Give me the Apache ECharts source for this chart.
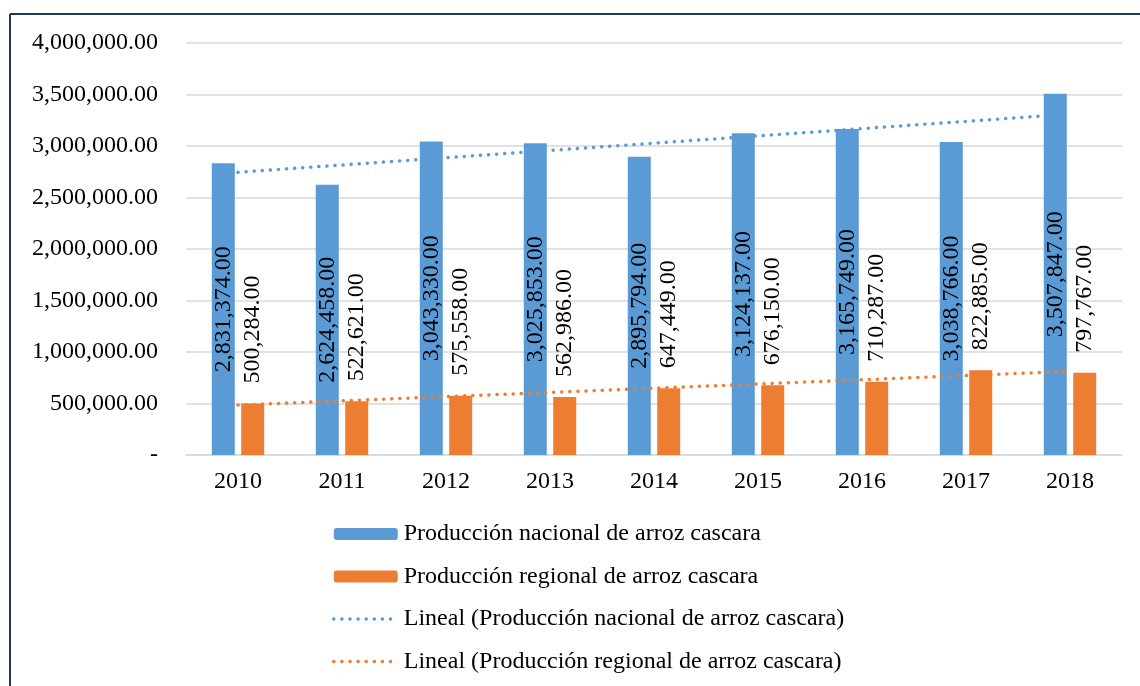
<!DOCTYPE html>
<html>
<head>
<meta charset="utf-8">
<script src="https://cdn.jsdelivr.net/npm/echarts@6/dist/echarts.min.js"></script>
<style>
html,body{margin:0;padding:0;background:#fff;}
#chart{width:1140px;height:686px;}
</style>
</head>
<body>
<div id="chart"></div>
<script>
const years = ['2010','2011','2012','2013','2014','2015','2016','2017','2018'];
const nacional = [2831374, 2624458, 3043330, 3025853, 2895794, 3124137, 3165749, 3038766, 3507847];
const regional = [500284, 522621, 575558, 562986, 647449, 676150, 710287, 822885, 797767];
// trendline endpoints (first and last year)
const trendNacional = [2745000, null, null, null, null, null, null, null, 3310000];
const trendRegional = [485000, null, null, null, null, null, null, null, 812000];
const seriesNames = [
  'Producción nacional de arroz cascara',
  'Producción regional de arroz cascara',
  'Lineal (Producción nacional de arroz cascara)',
  'Lineal (Producción regional de arroz cascara)'
];

const FONT = '"Liberation Serif", "Times New Roman", serif';
const BLUE = '#5B9BD5', ORANGE = '#ED7D31';
function fmt(v){
  if (v === 0) return '-';
  return v.toLocaleString('en-US', {minimumFractionDigits:2, maximumFractionDigits:2});
}
const dotted = {width:3.5, type:[0.1,8], cap:'round'};

const chart = echarts.init(document.getElementById('chart'), null, {renderer:'canvas'});
chart.setOption({
  animation:false,
  backgroundColor:'#fff',
  textStyle:{fontFamily:FONT},
  graphic:[
    {type:'line', shape:{x1:10, y1:14, x2:1140, y2:14}, style:{stroke:'#1F3864', lineWidth:2}},
    {type:'line', shape:{x1:10, y1:14, x2:10, y2:686}, style:{stroke:'#1F3864', lineWidth:2}}
  ],
  grid:{left:186, right:18, top:43, bottom:231, containLabel:false},
  xAxis:{
    type:'category', data:years,
    axisTick:{show:false},
    axisLine:{lineStyle:{color:'#d9d9d9', width:1.5}},
    axisLabel:{color:'#000', fontFamily:FONT, fontSize:24, margin:15}
  },
  yAxis:{
    type:'value', min:0, max:4000000, interval:500000,
    axisLine:{show:false}, axisTick:{show:false},
    splitLine:{lineStyle:{color:'#d9d9d9', width:1.5}},
    axisLabel:{color:'#000', fontFamily:FONT, fontSize:24, margin:28, formatter:fmt}
  },
  legend:{
    orient:'vertical', left:327, top:517,
    itemWidth:64, itemHeight:12, itemGap:18.5,
    textStyle:{color:'#000', fontFamily:FONT, fontSize:24, lineHeight:24, padding:[0,0,0,1]},
    data:[
      {name:seriesNames[0]},
      {name:seriesNames[1]},
      {name:seriesNames[2], itemStyle:{opacity:0}, lineStyle:Object.assign({color:BLUE}, dotted)},
      {name:seriesNames[3], itemStyle:{opacity:0}, lineStyle:Object.assign({color:ORANGE}, dotted)}
    ]
  },
  series:[
    {
      name:seriesNames[0], type:'bar', data:nacional, barWidth:23, barGap:'28%',
      itemStyle:{color:BLUE},
      label:{show:true, position:'inside', rotate:90, color:'#000', fontFamily:FONT, fontSize:24, formatter:p=>fmt(p.value)},
      z:2
    },
    {
      name:seriesNames[1], type:'bar', data:regional, barWidth:23,
      itemStyle:{color:ORANGE},
      label:{show:true, position:'top', rotate:90, align:'left', verticalAlign:'middle', distance:20, color:'#000', fontFamily:FONT, fontSize:24, formatter:p=>fmt(p.value)},
      z:2
    },
    {
      name:seriesNames[2], type:'line', data:trendNacional, connectNulls:true, symbol:'none',
      lineStyle:Object.assign({color:BLUE}, dotted), itemStyle:{color:BLUE}, z:5
    },
    {
      name:seriesNames[3], type:'line', data:trendRegional, connectNulls:true, symbol:'none',
      lineStyle:Object.assign({color:ORANGE}, dotted), itemStyle:{color:ORANGE}, z:5
    }
  ]
});
</script>
</body>
</html>
